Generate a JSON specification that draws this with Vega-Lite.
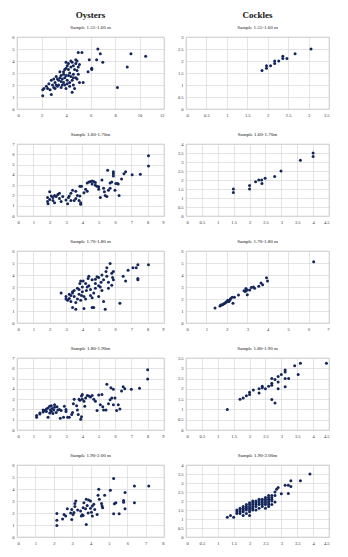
{
"$schema": "https://vega.github.io/schema/vega-lite/v6.json",
"background": "white",
"padding": {"left": 11, "top": 10, "right": 5, "bottom": 5},
"datasets": {
"p1": [{"x":2.1,"y":1.1},{"x":2.1,"y":1.6},{"x":2.5,"y":1.7},{"x":2.8,"y":1.2},{"x":2.6,"y":2.1},{"x":2.9,"y":2.0},{"x":2.7,"y":1.6},{"x":3.0,"y":1.8},{"x":3.1,"y":2.2},{"x":2.8,"y":2.4},{"x":3.0,"y":2.5},{"x":3.2,"y":2.0},{"x":3.3,"y":1.9},{"x":3.4,"y":2.4},{"x":3.5,"y":2.6},{"x":3.2,"y":2.7},{"x":3.6,"y":2.3},{"x":3.6,"y":1.8},{"x":3.7,"y":2.0},{"x":3.8,"y":2.9},{"x":3.8,"y":3.1},{"x":3.9,"y":2.6},{"x":4.0,"y":2.8},{"x":4.0,"y":3.4},{"x":4.1,"y":2.4},{"x":4.2,"y":2.8},{"x":4.1,"y":3.6},{"x":4.2,"y":3.8},{"x":4.3,"y":3.0},{"x":4.3,"y":2.2},{"x":4.4,"y":2.7},{"x":4.4,"y":3.5},{"x":4.5,"y":3.9},{"x":4.5,"y":1.4},{"x":4.6,"y":2.0},{"x":4.6,"y":2.9},{"x":4.7,"y":3.3},{"x":4.7,"y":1.7},{"x":4.0,"y":1.7},{"x":3.8,"y":2.2},{"x":4.8,"y":2.6},{"x":4.8,"y":4.1},{"x":4.9,"y":3.2},{"x":4.9,"y":2.5},{"x":5.0,"y":3.5},{"x":5.0,"y":2.9},{"x":5.1,"y":2.2},{"x":5.0,"y":4.7},{"x":5.1,"y":3.7},{"x":5.3,"y":4.7},{"x":5.4,"y":2.2},{"x":5.8,"y":3.1},{"x":6.1,"y":3.3},{"x":6.1,"y":3.4},{"x":5.9,"y":4.1},{"x":6.5,"y":4.1},{"x":6.6,"y":5.0},{"x":6.8,"y":4.6},{"x":7.0,"y":3.9},{"x":8.2,"y":1.8},{"x":9.0,"y":3.5},{"x":9.3,"y":4.6},{"x":10.5,"y":4.4},{"x":3.5,"y":3.1},{"x":4.4,"y":4.0},{"x":4.2,"y":3.3},{"x":3.9,"y":3.3},{"x":3.6,"y":2.8},{"x":3.4,"y":2.0},{"x":3.1,"y":1.7},{"x":4.3,"y":1.9},{"x":4.1,"y":2.1},{"x":4.5,"y":2.4},{"x":4.8,"y":3.8},{"x":4.6,"y":3.6},{"x":4.9,"y":4.0},{"x":3.7,"y":2.5},{"x":3.3,"y":2.5},{"x":4.0,"y":3.9},{"x":2.4,"y":1.9},{"x":2.2,"y":1.7},{"x":3.9,"y":2.0},{"x":4.6,"y":2.6}],
"p2": [{"x":1.86,"y":1.6},{"x":1.97,"y":1.7},{"x":1.97,"y":1.8},{"x":2.07,"y":1.8},{"x":2.17,"y":1.9},{"x":2.17,"y":2.0},{"x":2.27,"y":2.0},{"x":2.37,"y":2.1},{"x":2.37,"y":2.2},{"x":2.47,"y":2.1},{"x":2.67,"y":2.3},{"x":3.06,"y":2.5}],
"p3": [{"x":1.87,"y":1.8},{"x":1.87,"y":1.4},{"x":1.9,"y":1.2},{"x":2.0,"y":2.35},{"x":2.1,"y":1.95},{"x":2.2,"y":1.8},{"x":2.2,"y":1.5},{"x":2.3,"y":2.0},{"x":2.4,"y":1.9},{"x":2.5,"y":2.1},{"x":2.6,"y":1.7},{"x":2.3,"y":1.3},{"x":2.0,"y":1.6},{"x":2.6,"y":2.2},{"x":3.0,"y":1.55},{"x":3.1,"y":1.2},{"x":3.15,"y":1.8},{"x":3.2,"y":1.95},{"x":3.3,"y":2.2},{"x":3.4,"y":2.5},{"x":3.3,"y":1.5},{"x":3.5,"y":1.5},{"x":3.6,"y":1.7},{"x":3.85,"y":1.95},{"x":3.9,"y":1.15},{"x":3.8,"y":1.5},{"x":3.9,"y":1.3},{"x":3.85,"y":2.9},{"x":3.95,"y":2.9},{"x":4.1,"y":2.25},{"x":4.3,"y":2.4},{"x":4.3,"y":3.2},{"x":4.5,"y":3.35},{"x":4.7,"y":3.35},{"x":4.8,"y":3.25},{"x":4.8,"y":3.0},{"x":5.0,"y":2.85},{"x":5.0,"y":2.6},{"x":5.1,"y":1.8},{"x":5.2,"y":3.5},{"x":5.35,"y":2.35},{"x":5.4,"y":2.0},{"x":5.5,"y":1.9},{"x":5.55,"y":4.45},{"x":5.6,"y":2.5},{"x":5.7,"y":3.2},{"x":5.8,"y":3.3},{"x":5.9,"y":4.1},{"x":5.9,"y":4.3},{"x":5.9,"y":3.9},{"x":6.0,"y":2.5},{"x":6.05,"y":3.15},{"x":6.15,"y":3.15},{"x":6.25,"y":2.0},{"x":6.4,"y":3.6},{"x":6.55,"y":4.1},{"x":6.65,"y":4.3},{"x":7.05,"y":4.0},{"x":7.55,"y":4.05},{"x":8.05,"y":5.85},{"x":8.05,"y":4.85},{"x":4.4,"y":3.3},{"x":4.6,"y":3.1},{"x":4.9,"y":2.9},{"x":4.2,"y":2.6},{"x":3.6,"y":2.4},{"x":3.7,"y":2.0},{"x":2.8,"y":1.9},{"x":2.7,"y":1.4},{"x":5.7,"y":2.7},{"x":5.3,"y":2.7},{"x":4.6,"y":3.4},{"x":6.2,"y":3.1}],
"p4": [{"x":1.49,"y":1.5},{"x":1.49,"y":1.3},{"x":2.0,"y":1.7},{"x":2.0,"y":1.5},{"x":2.19,"y":1.9},{"x":2.29,"y":2.0},{"x":2.38,"y":2.0},{"x":2.39,"y":1.8},{"x":2.49,"y":2.1},{"x":2.79,"y":2.2},{"x":2.99,"y":2.5},{"x":3.6,"y":3.1},{"x":4.0,"y":3.5},{"x":4.0,"y":3.3}],
"p5": [{"x":2.7,"y":2.5},{"x":3.0,"y":2.2},{"x":3.0,"y":2.0},{"x":3.1,"y":1.9},{"x":3.2,"y":2.05},{"x":3.3,"y":2.3},{"x":3.4,"y":2.5},{"x":3.4,"y":2.6},{"x":3.5,"y":2.2},{"x":3.4,"y":1.3},{"x":3.6,"y":1.15},{"x":3.6,"y":1.7},{"x":3.7,"y":2.0},{"x":3.8,"y":2.4},{"x":3.8,"y":2.8},{"x":3.85,"y":3.3},{"x":3.9,"y":3.5},{"x":3.95,"y":2.3},{"x":4.0,"y":3.0},{"x":4.05,"y":3.5},{"x":4.1,"y":1.2},{"x":4.2,"y":2.0},{"x":4.25,"y":2.7},{"x":4.3,"y":3.0},{"x":4.35,"y":3.7},{"x":4.4,"y":3.9},{"x":4.5,"y":2.3},{"x":4.5,"y":2.8},{"x":4.6,"y":1.3},{"x":4.7,"y":1.3},{"x":4.7,"y":2.5},{"x":4.8,"y":3.3},{"x":4.8,"y":3.65},{"x":4.9,"y":3.85},{"x":5.0,"y":3.8},{"x":5.0,"y":2.2},{"x":5.1,"y":3.0},{"x":5.15,"y":3.4},{"x":5.2,"y":4.0},{"x":5.2,"y":2.7},{"x":5.3,"y":1.8},{"x":5.4,"y":1.15},{"x":5.45,"y":4.3},{"x":5.5,"y":4.6},{"x":5.6,"y":3.4},{"x":5.7,"y":4.95},{"x":5.8,"y":4.15},{"x":5.8,"y":3.15},{"x":5.85,"y":3.8},{"x":5.9,"y":3.6},{"x":5.9,"y":4.3},{"x":6.3,"y":1.65},{"x":6.5,"y":3.9},{"x":6.65,"y":3.5},{"x":6.8,"y":4.4},{"x":7.1,"y":4.6},{"x":7.3,"y":4.6},{"x":7.4,"y":4.85},{"x":7.4,"y":3.6},{"x":7.4,"y":3.7},{"x":8.05,"y":4.85},{"x":3.2,"y":2.4},{"x":3.5,"y":2.7},{"x":4.0,"y":2.6},{"x":4.4,"y":3.1},{"x":4.6,"y":3.6},{"x":4.2,"y":3.3},{"x":5.3,"y":3.6},{"x":5.6,"y":2.9},{"x":5.0,"y":3.1},{"x":4.8,"y":2.9},{"x":3.7,"y":2.9},{"x":4.1,"y":2.2},{"x":3.3,"y":1.8},{"x":3.9,"y":1.9},{"x":4.6,"y":2.1},{"x":5.5,"y":3.9}],
"p6": [{"x":1.42,"y":1.25},{"x":1.66,"y":1.42},{"x":1.75,"y":1.5},{"x":1.9,"y":1.64},{"x":1.99,"y":1.78},{"x":2.05,"y":1.82},{"x":2.15,"y":1.92},{"x":2.18,"y":2.03},{"x":2.26,"y":2.14},{"x":2.3,"y":1.64},{"x":2.37,"y":2.14},{"x":2.57,"y":2.33},{"x":2.84,"y":2.68},{"x":2.93,"y":2.88},{"x":2.95,"y":2.75},{"x":3.0,"y":2.36},{"x":3.0,"y":2.74},{"x":3.12,"y":2.74},{"x":3.2,"y":2.96},{"x":3.3,"y":3.0},{"x":3.36,"y":2.9},{"x":3.56,"y":3.07},{"x":3.67,"y":3.34},{"x":3.75,"y":3.18},{"x":3.94,"y":3.78},{"x":3.99,"y":3.5},{"x":6.25,"y":5.1},{"x":1.7,"y":1.5},{"x":1.85,"y":1.6},{"x":1.95,"y":1.72},{"x":2.05,"y":1.9},{"x":2.1,"y":1.8},{"x":1.8,"y":1.55},{"x":2.9,"y":2.62}],
"p7": [{"x":1.2,"y":1.4},{"x":1.2,"y":1.25},{"x":1.4,"y":1.65},{"x":1.4,"y":1.55},{"x":1.6,"y":1.95},{"x":1.7,"y":1.9},{"x":1.8,"y":2.05},{"x":1.8,"y":1.8},{"x":1.9,"y":2.15},{"x":1.9,"y":1.25},{"x":2.0,"y":1.65},{"x":2.0,"y":2.3},{"x":2.05,"y":1.95},{"x":2.1,"y":1.8},{"x":2.15,"y":2.1},{"x":2.2,"y":1.6},{"x":2.25,"y":1.95},{"x":2.3,"y":2.45},{"x":2.4,"y":1.7},{"x":2.5,"y":1.95},{"x":2.65,"y":1.15},{"x":2.85,"y":1.25},{"x":2.9,"y":2.3},{"x":3.0,"y":1.8},{"x":3.1,"y":1.25},{"x":3.2,"y":1.25},{"x":3.35,"y":1.5},{"x":3.4,"y":1.7},{"x":3.45,"y":2.55},{"x":3.5,"y":3.0},{"x":3.65,"y":2.35},{"x":3.7,"y":1.95},{"x":3.75,"y":1.5},{"x":3.8,"y":3.0},{"x":3.85,"y":2.9},{"x":3.9,"y":1.05},{"x":3.95,"y":1.3},{"x":3.95,"y":3.3},{"x":4.0,"y":3.45},{"x":4.1,"y":2.8},{"x":4.15,"y":2.3},{"x":4.2,"y":3.1},{"x":4.3,"y":3.35},{"x":4.4,"y":3.3},{"x":4.6,"y":3.35},{"x":4.7,"y":3.0},{"x":4.8,"y":2.8},{"x":4.9,"y":1.9},{"x":5.1,"y":2.45},{"x":5.2,"y":3.45},{"x":5.25,"y":2.25},{"x":5.3,"y":1.95},{"x":5.45,"y":1.95},{"x":5.5,"y":4.45},{"x":5.6,"y":2.55},{"x":5.7,"y":2.95},{"x":5.75,"y":4.1},{"x":5.8,"y":3.1},{"x":5.9,"y":3.95},{"x":5.9,"y":2.45},{"x":6.0,"y":3.1},{"x":6.1,"y":1.9},{"x":6.2,"y":2.45},{"x":6.3,"y":2.05},{"x":6.4,"y":3.8},{"x":6.5,"y":4.2},{"x":6.6,"y":4.0},{"x":7.0,"y":3.95},{"x":7.5,"y":4.05},{"x":8.0,"y":5.85},{"x":8.0,"y":4.95},{"x":2.3,"y":2.2},{"x":2.6,"y":2.0},{"x":2.45,"y":2.25},{"x":2.7,"y":1.9},{"x":3.0,"y":2.0},{"x":4.0,"y":3.0},{"x":4.5,"y":3.2},{"x":5.0,"y":3.4},{"x":2.1,"y":2.35},{"x":1.6,"y":1.75}],
"p8": [{"x":1.3,"y":1.0},{"x":1.7,"y":1.5},{"x":1.8,"y":1.56},{"x":1.9,"y":1.67},{"x":2.0,"y":1.72},{"x":2.0,"y":1.84},{"x":2.12,"y":1.94},{"x":2.3,"y":2.0},{"x":2.3,"y":1.8},{"x":2.4,"y":2.05},{"x":2.4,"y":2.13},{"x":2.5,"y":2.0},{"x":2.6,"y":2.13},{"x":2.7,"y":2.27},{"x":2.7,"y":2.5},{"x":2.7,"y":2.17},{"x":2.7,"y":1.48},{"x":2.8,"y":1.31},{"x":2.8,"y":2.46},{"x":2.9,"y":2.33},{"x":2.9,"y":2.6},{"x":2.9,"y":2.0},{"x":3.0,"y":2.7},{"x":3.12,"y":2.82},{"x":3.12,"y":2.92},{"x":3.12,"y":2.5},{"x":3.12,"y":2.1},{"x":3.23,"y":2.5},{"x":3.42,"y":3.12},{"x":3.53,"y":2.7},{"x":3.6,"y":3.25},{"x":4.42,"y":3.25}],
"p9": [{"x":2.17,"y":1.95},{"x":2.17,"y":1.4},{"x":2.17,"y":0.95},{"x":2.48,"y":1.5},{"x":2.56,"y":1.88},{"x":2.65,"y":1.75},{"x":2.74,"y":2.35},{"x":2.92,"y":2.0},{"x":2.98,"y":2.3},{"x":2.98,"y":1.46},{"x":3.05,"y":1.88},{"x":3.1,"y":2.05},{"x":3.15,"y":2.8},{"x":3.2,"y":3.0},{"x":3.15,"y":2.55},{"x":3.46,"y":2.16},{"x":3.5,"y":1.74},{"x":3.55,"y":1.85},{"x":3.6,"y":2.44},{"x":3.64,"y":2.86},{"x":3.73,"y":2.35},{"x":3.77,"y":3.14},{"x":3.77,"y":1.04},{"x":3.82,"y":2.63},{"x":3.87,"y":2.0},{"x":3.9,"y":3.08},{"x":4.0,"y":3.0},{"x":4.05,"y":2.07},{"x":4.1,"y":2.58},{"x":4.1,"y":1.74},{"x":4.18,"y":2.72},{"x":4.23,"y":2.3},{"x":4.36,"y":1.88},{"x":4.41,"y":3.47},{"x":4.45,"y":3.98},{"x":4.48,"y":3.14},{"x":4.6,"y":2.8},{"x":4.63,"y":2.58},{"x":4.66,"y":2.44},{"x":4.77,"y":3.47},{"x":5.08,"y":3.9},{"x":5.26,"y":4.87},{"x":5.26,"y":1.93},{"x":5.3,"y":2.77},{"x":5.38,"y":2.86},{"x":5.56,"y":1.93},{"x":5.8,"y":2.9},{"x":5.8,"y":3.05},{"x":5.88,"y":3.7},{"x":5.88,"y":2.35},{"x":6.39,"y":4.26},{"x":6.39,"y":2.86},{"x":7.17,"y":4.26},{"x":3.6,"y":1.8},{"x":4.0,"y":2.4},{"x":3.3,"y":2.25}],
"p10": [{"x":1.3,"y":1.1},{"x":1.4,"y":1.2},{"x":1.5,"y":1.1},{"x":1.6,"y":1.3},{"x":1.6,"y":1.4},{"x":1.6,"y":1.5},{"x":1.7,"y":1.3},{"x":1.7,"y":1.4},{"x":1.7,"y":1.5},{"x":1.7,"y":1.6},{"x":1.8,"y":1.2},{"x":1.8,"y":1.4},{"x":1.8,"y":1.5},{"x":1.8,"y":1.6},{"x":1.8,"y":1.7},{"x":1.9,"y":1.3},{"x":1.9,"y":1.5},{"x":1.9,"y":1.6},{"x":1.9,"y":1.7},{"x":1.9,"y":1.8},{"x":2.0,"y":1.2},{"x":2.0,"y":1.4},{"x":2.0,"y":1.5},{"x":2.0,"y":1.6},{"x":2.0,"y":1.7},{"x":2.0,"y":1.8},{"x":2.0,"y":1.9},{"x":2.1,"y":1.5},{"x":2.1,"y":1.6},{"x":2.1,"y":1.7},{"x":2.1,"y":1.8},{"x":2.1,"y":1.9},{"x":2.1,"y":2.0},{"x":2.2,"y":1.5},{"x":2.2,"y":1.7},{"x":2.2,"y":1.8},{"x":2.2,"y":1.9},{"x":2.2,"y":2.0},{"x":2.3,"y":1.6},{"x":2.3,"y":1.8},{"x":2.3,"y":1.9},{"x":2.3,"y":2.0},{"x":2.3,"y":2.1},{"x":2.4,"y":1.7},{"x":2.4,"y":1.8},{"x":2.4,"y":1.9},{"x":2.4,"y":2.0},{"x":2.4,"y":2.1},{"x":2.5,"y":1.6},{"x":2.5,"y":1.8},{"x":2.5,"y":1.9},{"x":2.5,"y":2.0},{"x":2.5,"y":2.1},{"x":2.5,"y":2.2},{"x":2.6,"y":1.7},{"x":2.6,"y":1.8},{"x":2.6,"y":1.9},{"x":2.6,"y":2.0},{"x":2.6,"y":2.1},{"x":2.6,"y":2.2},{"x":2.6,"y":2.3},{"x":2.7,"y":1.8},{"x":2.7,"y":2.0},{"x":2.7,"y":2.1},{"x":2.7,"y":2.2},{"x":2.7,"y":2.3},{"x":2.8,"y":1.95},{"x":2.8,"y":2.3},{"x":2.8,"y":2.5},{"x":2.85,"y":2.65},{"x":2.9,"y":2.75},{"x":3.0,"y":2.4},{"x":3.12,"y":2.88},{"x":3.22,"y":2.88},{"x":3.22,"y":2.41},{"x":3.3,"y":3.12},{"x":3.3,"y":2.8},{"x":3.6,"y":3.12},{"x":3.9,"y":3.5}]
},
"columns": 2,
"spacing": {"row": 35, "column": 22},
"bounds": "flush",
"concat": [
{"width": 147, "height": 72, "data": {"name": "p1"},
 "title": {"text": "Oysters", "subtitle": "Sample 1.55-1.60 m", "fontSize": 9, "fontWeight": "bold", "subtitleFont": "Liberation Serif", "subtitleFontSize": 5, "subtitleColor": "#222", "subtitlePadding": 5},
 "mark": {"type": "circle", "size": 9, "color": "#15275a", "opacity": 1},
 "encoding": {
  "x": {"field": "x", "type": "quantitative", "title": null, "scale": {"domain": [0, 12], "nice": false}, "axis": {"values": [0,2,4,6,8,10,12]}},
  "y": {"field": "y", "type": "quantitative", "title": null, "scale": {"domain": [0, 6], "nice": false}, "axis": {"values": [0,1,2,3,4,5,6]}}}},
{"width": 143, "height": 72, "data": {"name": "p2"},
 "title": {"text": "Cockles", "subtitle": "Sample 1.55-1.60 m", "fontSize": 9, "fontWeight": "bold", "subtitleFont": "Liberation Serif", "subtitleFontSize": 5, "subtitleColor": "#222", "subtitlePadding": 5},
 "mark": {"type": "circle", "size": 9, "color": "#15275a", "opacity": 1},
 "encoding": {
  "x": {"field": "x", "type": "quantitative", "title": null, "scale": {"domain": [0, 3.5], "nice": false}, "axis": {"values": [0,0.5,1,1.5,2,2.5,3,3.5]}},
  "y": {"field": "y", "type": "quantitative", "title": null, "scale": {"domain": [0, 3], "nice": false}, "axis": {"values": [0,0.5,1,1.5,2,2.5,3]}}}},
{"width": 147, "height": 72, "data": {"name": "p3"},
 "title": {"text": "Sample 1.60-1.70m"},
 "mark": {"type": "circle", "size": 9, "color": "#15275a", "opacity": 1},
 "encoding": {
  "x": {"field": "x", "type": "quantitative", "title": null, "scale": {"domain": [0, 9], "nice": false}, "axis": {"values": [0,1,2,3,4,5,6,7,8,9]}},
  "y": {"field": "y", "type": "quantitative", "title": null, "scale": {"domain": [0, 7], "nice": false}, "axis": {"values": [0,1,2,3,4,5,6,7]}}}},
{"width": 143, "height": 72, "data": {"name": "p4"},
 "title": {"text": "Sample 1.60-1.70m"},
 "mark": {"type": "circle", "size": 9, "color": "#15275a", "opacity": 1},
 "encoding": {
  "x": {"field": "x", "type": "quantitative", "title": null, "scale": {"domain": [0, 4.5], "nice": false}, "axis": {"values": [0,0.5,1,1.5,2,2.5,3,3.5,4,4.5]}},
  "y": {"field": "y", "type": "quantitative", "title": null, "scale": {"domain": [0, 4], "nice": false}, "axis": {"values": [0,0.5,1,1.5,2,2.5,3,3.5,4]}}}},
{"width": 147, "height": 72, "data": {"name": "p5"},
 "title": {"text": "Sample 1.70-1.80 m"},
 "mark": {"type": "circle", "size": 9, "color": "#15275a", "opacity": 1},
 "encoding": {
  "x": {"field": "x", "type": "quantitative", "title": null, "scale": {"domain": [0, 9], "nice": false}, "axis": {"values": [0,1,2,3,4,5,6,7,8,9]}},
  "y": {"field": "y", "type": "quantitative", "title": null, "scale": {"domain": [0, 6], "nice": false}, "axis": {"values": [0,1,2,3,4,5,6]}}}},
{"width": 143, "height": 72, "data": {"name": "p6"},
 "title": {"text": "Sample 1.70-1.80 m"},
 "mark": {"type": "circle", "size": 9, "color": "#15275a", "opacity": 1},
 "encoding": {
  "x": {"field": "x", "type": "quantitative", "title": null, "scale": {"domain": [0, 7], "nice": false}, "axis": {"values": [0,1,2,3,4,5,6,7]}},
  "y": {"field": "y", "type": "quantitative", "title": null, "scale": {"domain": [0, 6], "nice": false}, "axis": {"values": [0,1,2,3,4,5,6]}}}},
{"width": 147, "height": 72, "data": {"name": "p7"},
 "title": {"text": "Sample 1.80-1.90m"},
 "mark": {"type": "circle", "size": 9, "color": "#15275a", "opacity": 1},
 "encoding": {
  "x": {"field": "x", "type": "quantitative", "title": null, "scale": {"domain": [0, 9], "nice": false}, "axis": {"values": [0,1,2,3,4,5,6,7,8,9]}},
  "y": {"field": "y", "type": "quantitative", "title": null, "scale": {"domain": [0, 7], "nice": false}, "axis": {"values": [0,1,2,3,4,5,6,7]}}}},
{"width": 143, "height": 72, "data": {"name": "p8"},
 "title": {"text": "Sample 1.80-1.90 m"},
 "mark": {"type": "circle", "size": 9, "color": "#15275a", "opacity": 1},
 "encoding": {
  "x": {"field": "x", "type": "quantitative", "title": null, "scale": {"domain": [0, 4.5], "nice": false}, "axis": {"values": [0,0.5,1,1.5,2,2.5,3,3.5,4,4.5]}},
  "y": {"field": "y", "type": "quantitative", "title": null, "scale": {"domain": [0, 3.5], "nice": false}, "axis": {"values": [0,0.5,1,1.5,2,2.5,3,3.5]}}}},
{"width": 147, "height": 72, "data": {"name": "p9"},
 "title": {"text": "Sample 1.90-2.00 m"},
 "mark": {"type": "circle", "size": 9, "color": "#15275a", "opacity": 1},
 "encoding": {
  "x": {"field": "x", "type": "quantitative", "title": null, "scale": {"domain": [0, 8], "nice": false}, "axis": {"values": [0,1,2,3,4,5,6,7,8]}},
  "y": {"field": "y", "type": "quantitative", "title": null, "scale": {"domain": [0, 6], "nice": false}, "axis": {"values": [0,1,2,3,4,5,6]}}}},
{"width": 143, "height": 72, "data": {"name": "p10"},
 "title": {"text": "Sample 1.90-2.00m"},
 "mark": {"type": "circle", "size": 9, "color": "#15275a", "opacity": 1},
 "encoding": {
  "x": {"field": "x", "type": "quantitative", "title": null, "scale": {"domain": [0, 4.5], "nice": false}, "axis": {"values": [0,0.5,1,1.5,2,2.5,3,3.5,4,4.5]}},
  "y": {"field": "y", "type": "quantitative", "title": null, "scale": {"domain": [0, 4], "nice": false}, "axis": {"values": [0,0.5,1,1.5,2,2.5,3,3.5,4]}}}}
],
"config": {
 "view": {"stroke": "#b8b8b8", "strokeWidth": 0.7, "fill": "white"},
 "axis": {"labelFont": "Liberation Serif", "labelFontSize": 4.5, "labelColor": "#333", "ticks": false, "domain": false, "gridColor": "#d2d2d2", "gridWidth": 0.6, "labelPadding": 3, "format": "~g"},
 "title": {"font": "Liberation Serif", "fontSize": 5, "fontWeight": "normal", "color": "#111", "anchor": "middle", "frame": "group", "offset": 4}
}
}
